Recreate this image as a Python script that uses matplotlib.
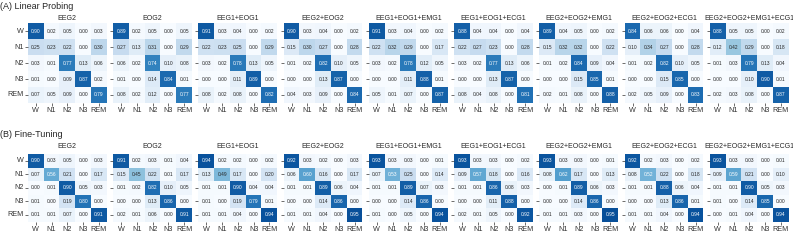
import numpy as np
import matplotlib.pyplot as plt
import seaborn as sns

plt.rcParams['font.family'] = ['Liberation Sans', 'DejaVu Sans']

stages = ['W', 'N1', 'N2', 'N3', 'REM']
titles = ['EEG2', 'EOG2', 'EEG1+EOG1', 'EEG2+EOG2', 'EEG1+EOG1+EMG1',
          'EEG1+EOG1+ECG1', 'EEG2+EOG2+EMG1', 'EEG2+EOG2+ECG1',
          'EEG2+EOG2+EMG1+ECG1']

# (A) linear probing, one 5x5 matrix per channel combination
linear_probing = [
    [[.90, .02, .05, .00, .03], [.25, .23, .22, .00, .30], [.03, .01, .77, .13, .06],
     [.01, .00, .09, .87, .02], [.07, .05, .09, .00, .79]],
    [[.89, .02, .05, .00, .05], [.27, .13, .31, .00, .29], [.06, .02, .74, .10, .08],
     [.01, .00, .14, .84, .01], [.08, .02, .12, .00, .77]],
    [[.91, .03, .04, .00, .02], [.22, .23, .25, .00, .29], [.03, .02, .78, .13, .05],
     [.00, .00, .11, .89, .00], [.08, .02, .08, .00, .82]],
    [[.90, .03, .04, .00, .02], [.15, .30, .27, .00, .28], [.01, .02, .82, .10, .05],
     [.00, .00, .13, .87, .00], [.04, .03, .09, .00, .84]],
    [[.91, .03, .04, .00, .02], [.22, .32, .29, .00, .17], [.03, .02, .78, .12, .05],
     [.00, .00, .11, .88, .01], [.05, .01, .07, .00, .87]],
    [[.88, .04, .04, .00, .04], [.22, .27, .23, .00, .28], [.03, .02, .77, .13, .06],
     [.00, .00, .13, .87, .00], [.08, .04, .08, .00, .81]],
    [[.89, .04, .05, .00, .02], [.15, .32, .32, .00, .22], [.01, .02, .84, .09, .04],
     [.00, .00, .15, .85, .01], [.02, .01, .08, .00, .88]],
    [[.84, .06, .06, .00, .04], [.10, .34, .27, .00, .28], [.01, .02, .82, .10, .05],
     [.00, .00, .15, .85, .00], [.02, .05, .09, .00, .83]],
    [[.88, .05, .05, .00, .02], [.12, .42, .29, .00, .18], [.01, .03, .79, .13, .04],
     [.00, .00, .10, .90, .01], [.02, .03, .08, .00, .87]],
]

# (B) fine-tuning
fine_tuning = [
    [[.90, .03, .05, .00, .03], [.07, .56, .21, .00, .17], [.00, .01, .90, .05, .03],
     [.01, .00, .19, .80, .00], [.01, .01, .07, .00, .91]],
    [[.91, .02, .03, .01, .04], [.15, .45, .22, .01, .17], [.01, .02, .82, .10, .05],
     [.00, .00, .13, .86, .00], [.02, .01, .06, .00, .91]],
    [[.94, .02, .02, .00, .02], [.13, .49, .17, .00, .20], [.01, .01, .90, .04, .04],
     [.01, .00, .19, .79, .01], [.01, .01, .04, .00, .94]],
    [[.92, .03, .02, .00, .03], [.06, .60, .16, .00, .17], [.01, .01, .89, .06, .04],
     [.00, .00, .14, .86, .00], [.01, .01, .04, .00, .95]],
    [[.93, .03, .03, .00, .01], [.07, .53, .25, .00, .14], [.01, .01, .89, .07, .03],
     [.00, .00, .14, .86, .00], [.01, .00, .05, .00, .94]],
    [[.93, .03, .03, .00, .02], [.09, .57, .18, .00, .16], [.01, .01, .86, .08, .03],
     [.00, .00, .11, .88, .00], [.02, .01, .05, .00, .92]],
    [[.93, .03, .03, .00, .01], [.08, .62, .17, .00, .13], [.00, .01, .89, .06, .03],
     [.00, .00, .14, .86, .00], [.01, .01, .03, .00, .95]],
    [[.92, .02, .03, .00, .02], [.08, .52, .22, .00, .18], [.01, .01, .88, .06, .04],
     [.00, .00, .13, .86, .01], [.01, .01, .04, .00, .94]],
    [[.93, .03, .03, .00, .01], [.09, .59, .21, .00, .10], [.01, .01, .90, .05, .03],
     [.01, .00, .14, .85, .00], [.00, .01, .04, .00, .94]],
]

fig = plt.figure(figsize=(7.93, 2.45), dpi=100)

left0, width, pitch = 0.0353, 0.0993, 0.1075
rows = [
    ('(A) Linear Probing', linear_probing, 0.5796, 0.3265, 0.975, 2.5),
    ('(B) Fine-Tuning', fine_tuning, 0.0959, 0.2755, 0.453, 4),
]

for label, mats, bottom, height, label_y, pad in rows:
    for i, m in enumerate(mats):
        ax = fig.add_axes([left0 + i * pitch, bottom, width, height])
        sns.heatmap(np.array(m), ax=ax, cmap='Blues', vmin=0, vmax=1.08,
                    annot=True, fmt='.2f', annot_kws={'size': 3.5},
                    cbar=False, xticklabels=stages, yticklabels=stages)
        ax.set_title(titles[i], fontsize=5, pad=pad, color='#262626')
        ax.tick_params(length=2, width=0.5, labelsize=5.2, pad=1,
                       colors='#333333', labelleft=(i == 0))
        ax.set_xticklabels(stages, rotation=0)
        ax.set_yticklabels(stages, rotation=0)
    fig.text(0.0, label_y, label, fontsize=6.5, va='center', color='#262626')

fig.savefig('out.png', dpi=100)
